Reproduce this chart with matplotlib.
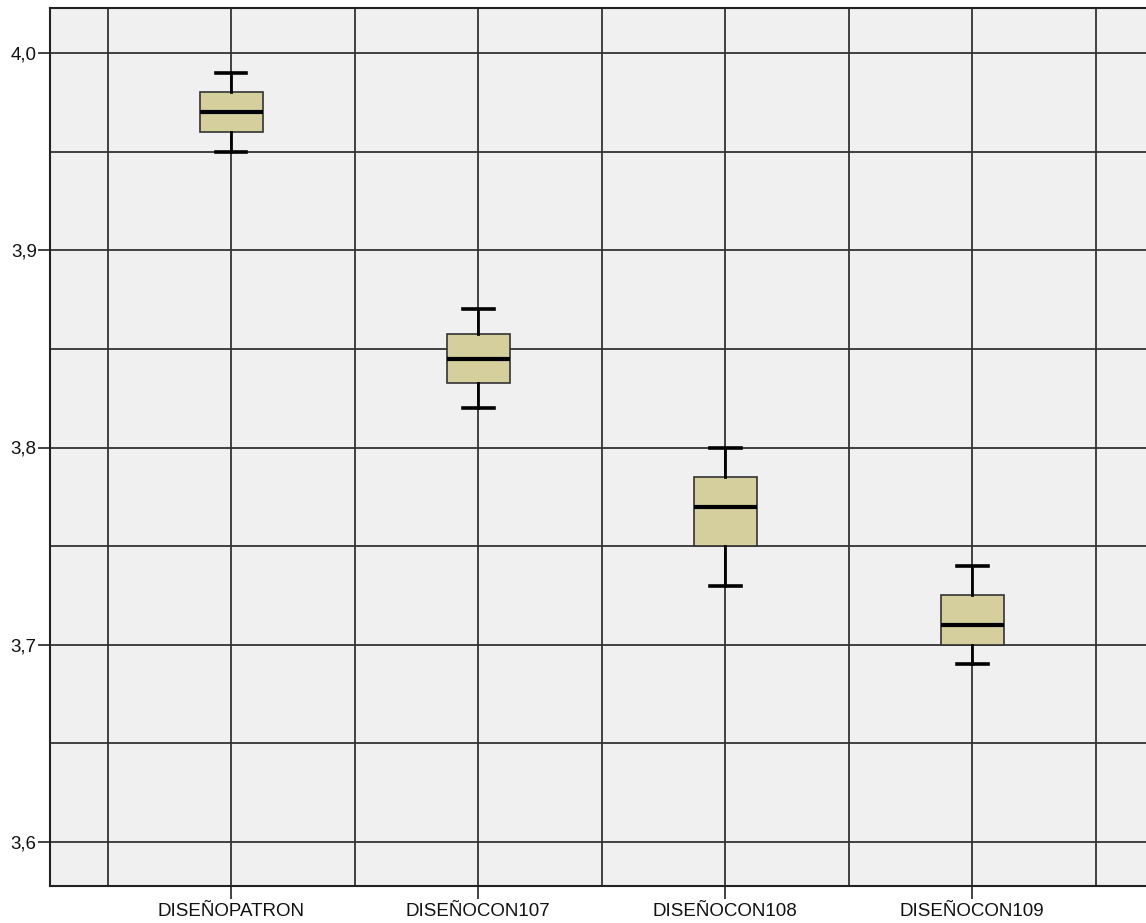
import matplotlib
matplotlib.use("Agg")
import matplotlib.pyplot as plt
from matplotlib.ticker import FixedLocator, MultipleLocator, FuncFormatter

plt.rcParams['font.family'] = ['Liberation Sans', 'DejaVu Sans']

groups = ['DISEÑOPATRON', 'DISEÑOCON107', 'DISEÑOCON108', 'DISEÑOCON109']
whis_low = [3.95, 3.82, 3.73, 3.69]
q1 = [3.96, 3.8325, 3.75, 3.70]
median = [3.97, 3.845, 3.77, 3.71]
q3 = [3.98, 3.8575, 3.785, 3.725]
whis_high = [3.99, 3.87, 3.80, 3.74]

stats = []
for i, g in enumerate(groups):
    stats.append(dict(label=g, whislo=whis_low[i], q1=q1[i], med=median[i],
                      q3=q3[i], whishi=whis_high[i], fliers=[]))

fig = plt.figure(figsize=(11.46, 9.23), dpi=100)
ax = fig.add_axes([50 / 1146, 37 / 923, 1.0 - 50 / 1146 + 0.002, (886 - 8) / 923])
ax.set_facecolor('#f0f0f0')

pos = list(range(1, len(groups) + 1))
ax.bxp(stats, positions=pos, widths=0.255, patch_artist=True, showfliers=False,
       boxprops=dict(facecolor='#d4cf9c', edgecolor='#333333', linewidth=1.2),
       medianprops=dict(color='black', linewidth=3),
       whiskerprops=dict(color='black', linewidth=2),
       capprops=dict(color='black', linewidth=2.6),
       capwidths=0.125, zorder=3)

ax.set_xlim(1 - 181 / 247, 4 + 176 / 247)
ax.set_ylim(3.6 - 44 / 1972.5, 4.0 + 45 / 1972.5)

ax.xaxis.set_major_locator(FixedLocator(pos))
ax.xaxis.set_minor_locator(FixedLocator([p - 0.5 for p in pos] + [pos[-1] + 0.5]))
ax.set_xticklabels(groups)
ax.yaxis.set_major_locator(MultipleLocator(0.1))
ax.yaxis.set_minor_locator(MultipleLocator(0.05))
ax.yaxis.set_major_formatter(FuncFormatter(lambda v, p: f'{v:.1f}'.replace('.', ',')))

ax.grid(True, which='both', color='#333333', linewidth=1.3, zorder=1)
ax.set_axisbelow(True)

ax.tick_params(axis='both', which='major', length=9, width=1.2, color='#222222',
               labelsize=13.5, labelcolor='#111111')
ax.tick_params(axis='x', which='major', pad=3)
ax.tick_params(axis='y', which='major', pad=0.5)
ax.tick_params(axis='both', which='minor', length=0)

for side in ['left', 'bottom', 'top']:
    ax.spines[side].set_color('#222222')
    ax.spines[side].set_linewidth(1.5)
ax.spines['right'].set_visible(False)

fig.savefig('out.png', dpi=100, facecolor='white')
